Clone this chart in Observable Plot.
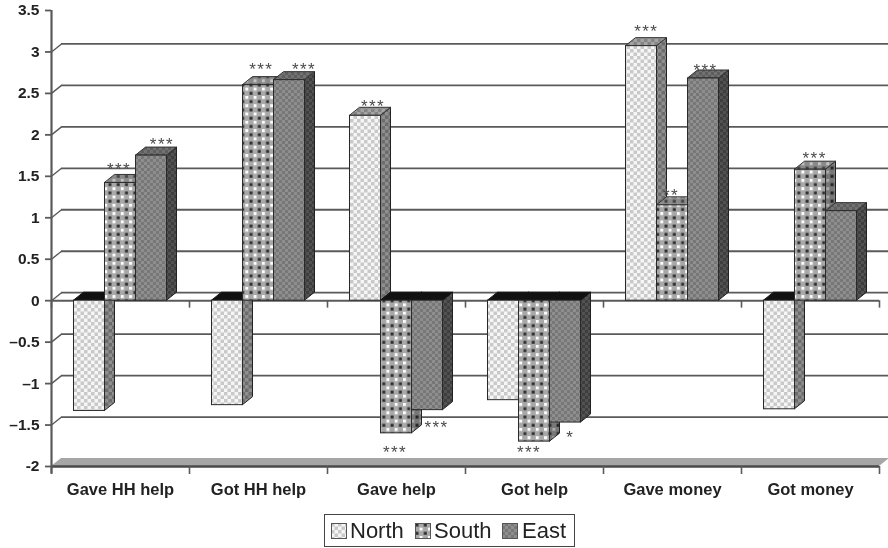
<!DOCTYPE html>
<html>
<head>
<meta charset="utf-8">
<script src="https://cdn.jsdelivr.net/npm/d3@7"></script>
<script src="https://cdn.jsdelivr.net/npm/@observablehq/plot@0.6"></script>
<style>
  html, body { margin: 0; padding: 0; background: #fff; }
  body { width: 888px; height: 548px; position: relative; overflow: hidden; font-family: "Liberation Sans", Arial, sans-serif; }
  #chart svg { display: block; }
  #chart, #legend { filter: blur(0.35px); }
  #chart g[aria-label="text"] text { letter-spacing: 1.4px; }
  #legend { position: absolute; left: 324px; top: 514px; width: 249px; height: 31px; border: 1.5px solid #444; font-size: 22px; color: #222; }
  #legend svg { position: absolute; top: 8px; }
  #legend span { position: absolute; top: 2px; line-height: 28px; }
</style>
</head>
<body>
<svg width="0" height="0" style="position:absolute">
  <defs>
    <pattern id="North" width="7" height="7" patternUnits="userSpaceOnUse">
      <rect width="7" height="7" fill="#f6f6f6"/>
      <rect width="3.5" height="3.5" fill="#c9c9c9"/>
      <rect x="3.5" y="3.5" width="3.5" height="3.5" fill="#c9c9c9"/>
    </pattern>
    <pattern id="South" width="8.3" height="8.3" patternUnits="userSpaceOnUse">
      <rect width="8.3" height="8.3" fill="#a8a8a8"/>
      <rect x="0.5" y="0.5" width="3" height="3" fill="#2e2e2e"/>
      <rect x="4.6" y="4.6" width="3" height="3" fill="#fdfdfd"/>
    </pattern>
    <pattern id="East" width="6" height="6" patternUnits="userSpaceOnUse">
      <rect width="6" height="6" fill="#777"/>
      <rect width="3" height="3" fill="#8e8e8e"/>
      <rect x="3" y="3" width="3" height="3" fill="#8e8e8e"/>
    </pattern>
    <pattern id="NorthDark" width="7" height="7" patternUnits="userSpaceOnUse">
      <rect width="7" height="7" fill="#6c6c6c"/>
      <rect width="3.5" height="3.5" fill="#8f8f8f"/>
      <rect x="3.5" y="3.5" width="3.5" height="3.5" fill="#8f8f8f"/>
    </pattern>
    <pattern id="SouthDark" width="8.3" height="8.3" patternUnits="userSpaceOnUse">
      <rect width="8.3" height="8.3" fill="#777"/>
      <rect x="0.5" y="0.5" width="3" height="3" fill="#222"/>
      <rect x="4.6" y="4.6" width="3" height="3" fill="#aaa"/>
    </pattern>
    <pattern id="EastDark" width="6" height="6" patternUnits="userSpaceOnUse">
      <rect width="6" height="6" fill="#3e3e3e"/>
      <rect width="3" height="3" fill="#525252"/>
      <rect x="3" y="3" width="3" height="3" fill="#525252"/>
    </pattern>
    <pattern id="NorthTop" width="7" height="7" patternUnits="userSpaceOnUse">
      <rect width="7" height="7" fill="#848484"/>
      <rect width="3.5" height="3.5" fill="#a4a4a4"/>
      <rect x="3.5" y="3.5" width="3.5" height="3.5" fill="#a4a4a4"/>
    </pattern>
    <pattern id="SouthTop" width="8.3" height="8.3" patternUnits="userSpaceOnUse">
      <rect width="8.3" height="8.3" fill="#8a8a8a"/>
      <rect x="0.5" y="0.5" width="3" height="3" fill="#444"/>
      <rect x="4.6" y="4.6" width="3" height="3" fill="#c4c4c4"/>
    </pattern>
    <pattern id="EastTop" width="6" height="6" patternUnits="userSpaceOnUse">
      <rect width="6" height="6" fill="#5e5e5e"/>
      <rect width="3" height="3" fill="#727272"/>
      <rect x="3" y="3" width="3" height="3" fill="#727272"/>
    </pattern>
  </defs>
</svg>
<div id="chart"></div>
<div id="legend"></div>
<script>
// ---- Data ----
const categories = ["Gave HH help", "Got HH help", "Gave help", "Got help", "Gave money", "Got money"];
const seriesNames = ["North", "South", "East"];
const north = [-1.33, -1.26, 2.23, -1.2, 3.07, -1.31];
const south = [1.42, 2.6, -1.6, -1.7, 1.15, 1.58];
const east = [1.75, 2.66, -1.32, -1.47, 2.68, 1.08];
const gridValues = [-1.5, -1, -0.5, 0, 0.5, 1, 1.5, 2, 2.5, 3];
const yTicks = [-2, -1.5, -1, -0.5, 0, 0.5, 1, 1.5, 2, 2.5, 3, 3.5];
const yTickText = ["-2", "–1.5", "–1", "–0.5", "0", "0.5", "1", "1.5", "2", "2.5", "3", "3.5"];
const starText = ["***", "***", "***", "***", "***", "***", "***", "***", "*", "***", "**", "***", "***"];
const starX = [0.49, 0.80, 1.52, 1.83, 2.33, 2.49, 2.79, 3.46, 3.76, 4.31, 4.49, 4.74, 5.53];
const starY = [1.62, 1.92, 2.82, 2.82, 2.38, -1.79, -1.5, -1.8, -1.62, 3.28, 1.31, 2.81, 1.75];

// ---- Tables built from the arrays ----
const seriesValues = [north, south, east];
const groupInset = 0.163;
const barSpan = (1 - 2 * groupInset) / seriesNames.length;
const rows = categories.flatMap((category, i) =>
  seriesNames.map((series, j) => ({
    category, series, value: seriesValues[j][i],
    x1: i + groupInset + j * barSpan,
    x2: i + groupInset + (j + 1) * barSpan
  })));
const stars = starText.map((text, i) => ({text, x: starX[i], y: starY[i]}));
const boundaries = d3.range(categories.length + 1);

// ---- 3D extrusion of a rect mark: the scales place the rect, we add its depth faces ----
const depthX = 10, depthY = 8;
const svgNS = "http://www.w3.org/2000/svg";
function face(points, fill, stroke) {
  const p = document.createElementNS(svgNS, "polygon");
  p.setAttribute("points", points.map(q => q.join(",")).join(" "));
  p.setAttribute("fill", fill);
  p.setAttribute("stroke", stroke);
  p.setAttribute("stroke-width", 1);
  p.setAttribute("stroke-linejoin", "round");
  return p;
}
function extruded(index, scales, values, dimensions, context, next) {
  const g = next(index, scales, values, dimensions, context);
  g.querySelectorAll("rect").forEach((rect, k) => {
    const d = rows[index[k]];
    const x = +rect.getAttribute("x"), y = +rect.getAttribute("y");
    const w = +rect.getAttribute("width"), h = +rect.getAttribute("height");
    const side = face([[x + w, y], [x + w + depthX, y - depthY], [x + w + depthX, y + h - depthY], [x + w, y + h]],
      `url(#${d.series}Dark)`, "#222");
    const topFill = d.value < 0 ? "#111" : `url(#${d.series}Top)`;
    const top = face([[x, y], [x + depthX, y - depthY], [x + w + depthX, y - depthY], [x + w, y]], topFill, d.value < 0 ? "#111" : "#333");
    g.insertBefore(side, rect);
    g.insertBefore(top, rect);
  });
  return g;
}
function floorFace(index, scales, values, dimensions, context, next) {
  const g = next(index, scales, values, dimensions, context);
  g.querySelectorAll("rect").forEach(rect => {
    const x = +rect.getAttribute("x"), y = +rect.getAttribute("y"), w = +rect.getAttribute("width");
    g.insertBefore(face([[x, y], [x + depthX, y - depthY], [x + w + depthX, y - depthY], [x + w, y]], "#a6a6a6", "none"), rect);
  });
  return g;
}

const ink = "#5a5a5a";
const font = '"Liberation Sans", Arial, sans-serif';

const chart = Plot.plot({
  width: 888,
  height: 510,
  marginTop: 10,
  marginBottom: 44,
  marginLeft: 51,
  marginRight: 9,
  style: {background: "transparent", fontFamily: font, overflow: "visible"},
  x: {domain: [0, categories.length], axis: null},
  y: {domain: [-2, 3.5], axis: null},
  marks: [
    // back-wall gridlines, shifted by the chart's depth
    Plot.ruleY(gridValues, {dx: depthX, dy: -depthY, x1: 0, x2: categories.length, stroke: ink, strokeWidth: 1.8}),
    // slanted side-wall lines from each y tick to the back wall
    Plot.link(gridValues, {x1: 0, x2: depthX / 138, y1: d => d, y2: d => d + depthY * 5.5 / 456, stroke: ink, strokeWidth: 1.4}),
    // floor
    Plot.rect([0], {x1: 0, x2: categories.length, y1: -2, y2: -2, render: floorFace}),
    Plot.ruleY([-2], {x1: 0, x2: categories.length, stroke: "#4a4a4a", strokeWidth: 2.5}),
    // front axis lines
    Plot.ruleX(boundaries, {y1: 0, y2: -0.09, stroke: ink, strokeWidth: 1.6}),
    Plot.ruleY([0], {x1: 0, x2: categories.length, stroke: ink, strokeWidth: 2}),
    Plot.ruleX([0], {y1: -2.09, y2: 3.5, stroke: ink, strokeWidth: 2.2}),
    Plot.axisX({
      anchor: "bottom", ticks: boundaries, tickSize: 8, tickFormat: () => "", label: null,
      stroke: ink, strokeWidth: 1.6
    }),
    Plot.axisX({
      anchor: "bottom", ticks: categories.map((_, i) => i + 0.5), tickSize: 0, tickPadding: 17,
      tickFormat: d => categories[d - 0.5], label: null,
      fontSize: 16.5, fontWeight: "bold", fill: "#222"
    }),
    Plot.axisY({
      anchor: "left", ticks: yTicks, tickSize: 6, tickPadding: 6, label: null,
      tickFormat: d => yTickText[yTicks.indexOf(d)],
      fontSize: 15.5, fontWeight: "bold", color: "#222", stroke: ink, strokeWidth: 1.8
    }),
    // bars
    Plot.rect(rows, {
      x1: "x1", x2: "x2", y1: 0, y2: "value",
      fill: {value: d => `url(#${d.series})`, scale: null},
      stroke: "#2a2a2a", strokeWidth: 1,
      render: extruded,
      title: d => `${d.category} – ${d.series}: ${d.value}`
    }),
    // significance stars
    Plot.text(stars, {x: "x", y: "y", text: "text", dy: 3, fontSize: 17, fill: "#4a4a4a", stroke: "none"})
  ]
});
document.getElementById("chart").append(chart);

// ---- Legend ----
const legend = document.getElementById("legend");
const swatchLeft = [6, 90, 177];
const labelLeft = [25, 109, 197];
seriesNames.forEach((name, i) => {
  const swatch = d3.create("svg").attr("width", 16).attr("height", 16).style("left", swatchLeft[i] + "px");
  swatch.append("rect").attr("x", 0.5).attr("y", 0.5).attr("width", 15).attr("height", 15)
    .attr("fill", `url(#${name})`).attr("stroke", "#555");
  legend.append(swatch.node());
  const label = document.createElement("span");
  label.textContent = name;
  label.style.left = labelLeft[i] + "px";
  legend.append(label);
});
</script>
</body>
</html>
